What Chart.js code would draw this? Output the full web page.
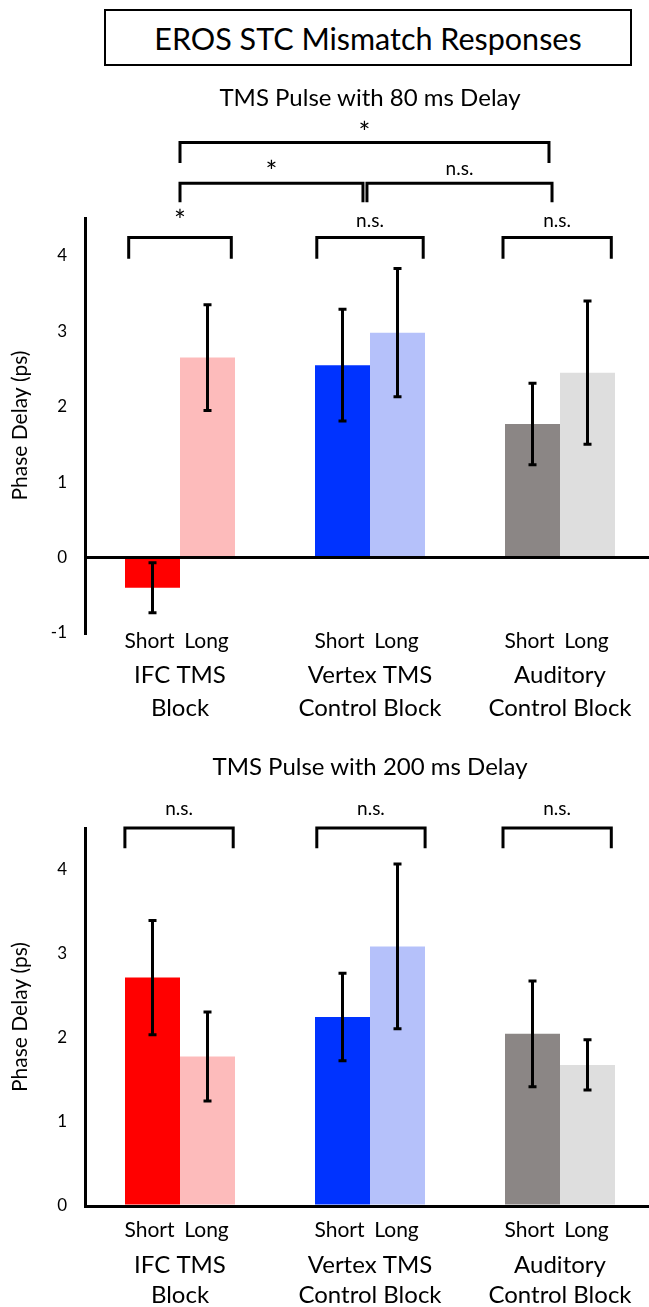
<!DOCTYPE html>
<html><head><meta charset="utf-8">
<script src="https://cdn.jsdelivr.net/npm/chart.js@4.4.1/dist/chart.umd.min.js"></script>
<style>
html,body{margin:0;padding:0;background:#fff;overflow:hidden;}
body{width:649px;height:1307px;position:relative;font-family:Lato,'Open Sans',sans-serif;color:#000;}
.abs{position:absolute;}
#titleBox{left:104px;top:9px;width:528px;height:57px;box-sizing:border-box;border:2px solid #000;display:flex;align-items:center;justify-content:center;font-size:30.5px;white-space:nowrap;}
.sub{left:85px;width:570px;text-align:center;font-size:24px;line-height:28px;white-space:nowrap;z-index:2;}
.wrap{left:0;width:655px;}
</style>
</head><body>
<div id="titleBox" class="abs">EROS STC Mismatch Responses</div>
<div class="abs sub" style="top:83px;">TMS Pulse with 80 ms Delay</div>
<div class="abs sub" style="top:752px;">TMS Pulse with 200 ms Delay</div>
<div class="abs wrap" style="top:110px;height:620px;"><canvas id="c80"></canvas></div>
<div class="abs wrap" style="top:730px;height:577px;"><canvas id="c200"></canvas></div>
<script>
// ---------- data ----------
const categoryLabels = [["IFC TMS","Block"],["Vertex TMS","Control Block"],["Auditory","Control Block"]];
const conditionLabels = ["Short","Long"];

const short80    = [-0.40, 2.55, 1.77];
const long80     = [ 2.65, 2.98, 2.45];
const short80Err = [ 0.33, 0.74, 0.54];
const long80Err  = [ 0.70, 0.85, 0.95];

const short200    = [2.72, 2.25, 2.05];
const long200     = [1.78, 3.09, 1.68];
const short200Err = [0.68, 0.52, 0.63];
const long200Err  = [0.53, 0.98, 0.30];

const yTicks80  = [-1, 0, 1, 2, 3, 4];
const yTicks200 = [0, 1, 2, 3, 4];

const sigLabels80  = ["*", "*", "n.s.", "*", "n.s.", "n.s."];
const sigLabels200 = ["n.s.", "n.s.", "n.s."];

// ---------- styles / annotation geometry ----------
const shortColors = ["#FF0000", "#0033FF", "#8B8685"];
const longColors  = ["#FDBBBB", "#B5C1FA", "#DEDEDE"];
const FONT = "Lato, 'Open Sans', sans-serif";

// bracket geometry: x in category units, y in value units, gap = label baseline offset (px)
const bracketGeom80 = [
  {from: 0.00, to: 1.942, y: 5.50, leg: 5.23, gap: 0},
  {from: 0.00, to: 0.963, y: 4.96, leg: 4.71, gap: 1},
  {from: 0.984, to: 1.958, y: 4.96, leg: 4.71, gap: 8},
  {from: -0.27, to: 0.27, y: 4.24, leg: 3.96, gap: 7},
  {from: 0.72, to: 1.28, y: 4.24, leg: 3.96, gap: 11},
  {from: 1.70, to: 2.27, y: 4.24, leg: 3.96, gap: 11}
];
const bracketGeom200 = [
  {from: -0.29, to: 0.28, y: 4.50, leg: 4.26, gap: 13},
  {from: 0.72, to: 1.29, y: 4.50, leg: 4.26, gap: 13},
  {from: 1.70, to: 2.27, y: 4.50, leg: 4.26, gap: 13}
];

const errorBarPlugin = {
  id: 'errorBars',
  afterDatasetsDraw(chart) {
    const {ctx} = chart, y = chart.scales.y;
    chart.data.datasets.forEach((ds, di) => {
      const meta = chart.getDatasetMeta(di);
      meta.data.forEach((bar, i) => {
        const v = ds.data[i], e = ds.errors[i];
        const yt = y.getPixelForValue(v + e), yb = y.getPixelForValue(v - e);
        ctx.save();
        ctx.strokeStyle = '#000'; ctx.lineWidth = 3;
        ctx.beginPath();
        ctx.moveTo(bar.x, yt); ctx.lineTo(bar.x, yb);
        ctx.moveTo(bar.x - 4, yt); ctx.lineTo(bar.x + 4, yt);
        ctx.moveTo(bar.x - 4, yb); ctx.lineTo(bar.x + 4, yb);
        ctx.stroke();
        ctx.restore();
      });
    });
  }
};

const extrasPlugin = {
  id: 'extras',
  afterDraw(chart, args, opts) {
    const {ctx} = chart, x = chart.scales.x, y = chart.scales.y;
    ctx.save();
    // significance brackets
    ctx.strokeStyle = '#000'; ctx.lineWidth = 3; ctx.lineJoin = 'miter';
    ctx.fillStyle = '#000';
    ctx.textAlign = 'center'; ctx.textBaseline = 'alphabetic';
    opts.geom.forEach((b, i) => {
      const x1 = x.getPixelForValue(b.from), x2 = x.getPixelForValue(b.to);
      const yl = y.getPixelForValue(b.y), yg = y.getPixelForValue(b.leg);
      ctx.beginPath();
      ctx.moveTo(x1, yg); ctx.lineTo(x1, yl); ctx.lineTo(x2, yl); ctx.lineTo(x2, yg);
      ctx.stroke();
      const lab = opts.labels[i];
      ctx.font = (lab === '*' ? "28px " : "19px ") + FONT;
      ctx.fillText(lab, (x1 + x2) / 2, yl - b.gap);
    });
    // Short / Long labels under each bar
    ctx.font = "21px " + FONT;
    ctx.textBaseline = 'middle';
    chart.data.datasets.forEach((ds, di) => {
      chart.getDatasetMeta(di).data.forEach(bar => {
        ctx.fillText(ds.label, bar.x - (di === 0 ? 3 : 1), chart.chartArea.bottom + opts.condOffset);
      });
    });
    ctx.restore();
  }
};

function makeChart(id, shortVals, longVals, shortErr, longErr, yMin, yTicks, padTop, xHeight, catPad, catLH, geom, labels, condOffset) {
  return new Chart(document.getElementById(id), {
    type: 'bar',
    data: {
      labels: categoryLabels,
      datasets: [
        {label: conditionLabels[0], data: shortVals, errors: shortErr, backgroundColor: shortColors, borderWidth: 0},
        {label: conditionLabels[1], data: longVals, errors: longErr, backgroundColor: longColors, borderWidth: 0}
      ]
    },
    options: {
      responsive: true, maintainAspectRatio: false, animation: false, devicePixelRatio: 1,
      layout: {padding: {top: padTop, left: 0, right: 0, bottom: 0}},
      datasets: {bar: {barPercentage: 1.0, categoryPercentage: 110 / 190}},
      plugins: {
        legend: {display: false}, tooltip: {enabled: false}, title: {display: false},
        extras: {geom: geom, labels: labels, condOffset: condOffset}
      },
      scales: {
        x: {
          afterFit: s => { s.height = xHeight; s.paddingLeft = 0; s.paddingRight = 0; },
          border: {display: false},
          grid: {display: false, drawTicks: false},
          ticks: {padding: catPad, color: '#000', maxRotation: 0, autoSkip: false,
                  font: {family: FONT, size: 24, lineHeight: catLH}}
        },
        y: {
          min: yMin, max: 4.5,
          afterBuildTicks: s => { s.ticks = yTicks.map(v => ({value: v})); },
          afterFit: s => { s.width = 85; s.paddingTop = 0; s.paddingBottom = 0; },
          border: {display: true, color: '#000', width: 3, z: 1},
          grid: {display: true, drawTicks: false, z: 1, lineWidth: 3,
                 color: c => (c.tick && c.tick.value === 0) ? '#000' : 'rgba(0,0,0,0)'},
          ticks: {padding: 18, color: '#000', font: {family: FONT, size: 17}},
          title: {display: true, text: 'Phase Delay (ps)', color: '#000',
                  font: {family: FONT, size: 21}, padding: {top: 8, bottom: 0}}
        }
      }
    },
    plugins: [errorBarPlugin, extrasPlugin]
  });
}

makeChart('c80', short80, long80, short80Err, long80Err, -1, yTicks80, 108, 97, 25.5, 1.375, bracketGeom80, sigLabels80, 8);
makeChart('c200', short200, long200, short200Err, long200Err, 0, yTicks200, 98, 101, 44, 1.25, bracketGeom200, sigLabels200, 24);
</script>
</body></html>
